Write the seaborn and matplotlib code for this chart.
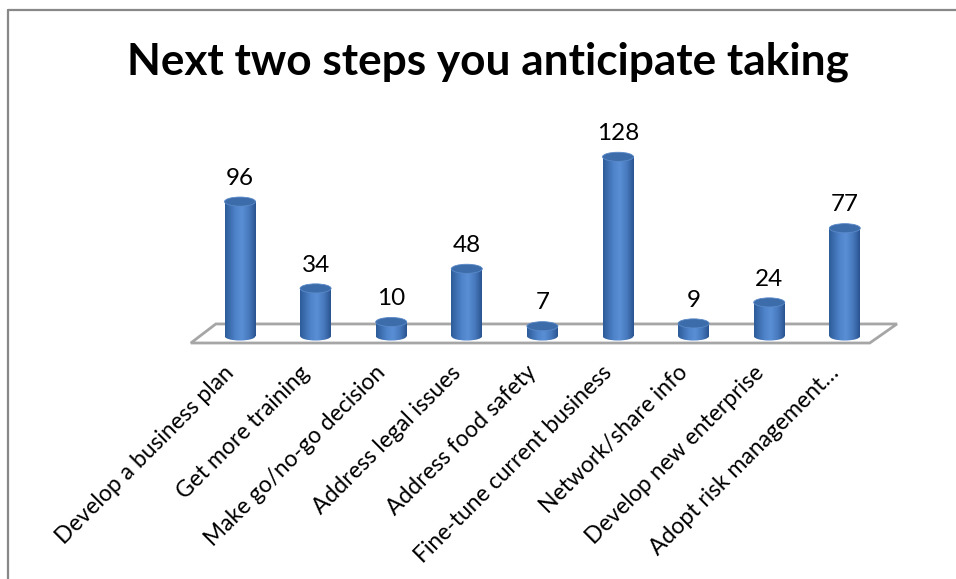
import numpy as np
import pandas as pd
import seaborn as sns
import matplotlib
matplotlib.use("Agg")
import matplotlib.pyplot as plt
from matplotlib.patches import Ellipse, Polygon
from matplotlib.lines import Line2D
from matplotlib.colors import LinearSegmentedColormap
from matplotlib.transforms import ScaledTranslation

# ---- data ----
categories = [
    "Develop a business plan",
    "Get more training",
    "Make go/no-go decision",
    "Address legal issues",
    "Address food safety",
    "Fine-tune current business",
    "Network/share info",
    "Develop new enterprise",
    "Adopt risk management\u2026",
]
counts = [96, 34, 10, 48, 7, 128, 9, 24, 77]
title = "Next two steps you anticipate taking"

df = pd.DataFrame({"step": categories, "count": counts})

sns.set_theme(style="white")
plt.rcParams["font.family"] = ["Lato", "DejaVu Sans"]

W, H = 956, 579
fig = plt.figure(figsize=(W / 100, H / 100), dpi=100)
fig.patch.set_facecolor("white")

# axes placement (pixel geometry)
L, R, T, B = 180, 910, 110, 350
ax = fig.add_axes([L / W, 1 - B / H, (R - L) / W, (B - T) / H])
ax.set_facecolor("none")

bar_w = 0.41
sns.barplot(data=df, x="step", y="count", order=categories, color="#4a7cc0",
            width=bar_w, ax=ax, zorder=3, linewidth=0)

px_per_cat = 75.6
px_per_unit = 1.4
x0_px, base_px = 240, 336
xlim = ((L - x0_px) / px_per_cat, (R - x0_px) / px_per_cat)
ylim = ((base_px - B) / px_per_unit, (base_px - T) / px_per_unit)

# floor (parallelogram)
floor = Polygon([(-0.65, -5.0), (8.33, -5.0), (8.69, 8.6), (-0.32, 8.6)],
                closed=True, facecolor="white", edgecolor="#a6a6a6",
                linewidth=2.0, zorder=1)
ax.add_patch(floor)

cyl = LinearSegmentedColormap.from_list(
    "cyl", [(0.0, "#2e5c9a"), (0.35, "#4f84cb"), (0.55, "#5a8fd6"),
            (0.8, "#4677bb"), (1.0, "#2a5490")])
grad = np.linspace(0, 1, 64).reshape(1, -1)
ell_h = 6.5  # data units (~9 px)

bars = [p for p in ax.patches if p is not floor]
for p in bars:
    x, w, h = p.get_x(), p.get_width(), p.get_height()
    cx = x + w / 2
    ax.imshow(grad, extent=[x, x + w, 0, h], aspect="auto", cmap=cyl,
              zorder=3.2, interpolation="bilinear")
    bot = Ellipse((cx, 0), w, ell_h, facecolor="none", edgecolor="none",
                  zorder=3.1)
    ax.add_patch(bot)
    im = ax.imshow(grad, extent=[x, x + w, -ell_h / 2, ell_h / 2],
                   aspect="auto", cmap=cyl, zorder=3.1,
                   interpolation="bilinear")
    im.set_clip_path(bot)
    top = Ellipse((cx, h), w, ell_h, facecolor="#3d6cab",
                  edgecolor="#5a89c8", linewidth=0.6, zorder=3.5)
    ax.add_patch(top)

# data labels
for i, v in enumerate(counts):
    ax.text(i, v + 12, str(v), ha="center", va="baseline", fontsize=17.5,
            color="black", zorder=5)

ax.set_xlim(*xlim)
ax.set_ylim(*ylim)
ax.set_yticks([])
ax.set_xlabel("")
ax.set_ylabel("")
for s in ax.spines.values():
    s.set_visible(False)
ax.tick_params(axis="x", length=0, pad=14)
ax.set_xticks(range(len(categories)))
ax.set_xticklabels(categories, rotation=45, ha="right", va="center",
                   rotation_mode="anchor", fontsize=16.5, color="black")
shift = ScaledTranslation(-9 / 100, 0, fig.dpi_scale_trans)
for lab in ax.get_xticklabels():
    lab.set_transform(lab.get_transform() + shift)

# title
fig.text(488 / W, 1 - 75 / H, title, ha="center", va="baseline",
         fontsize=31.8, fontweight="bold", color="black")

# outer frame (top and left only visible)
fig.add_artist(Line2D([7.5 / W, 1.0], [1 - 10 / H, 1 - 10 / H],
                      transform=fig.transFigure, color="#888888", lw=1.6))
fig.add_artist(Line2D([7.5 / W, 7.5 / W], [0, 1 - 10 / H],
                      transform=fig.transFigure, color="#888888", lw=1.6))

fig.savefig("out.png", dpi=100, facecolor="white")
